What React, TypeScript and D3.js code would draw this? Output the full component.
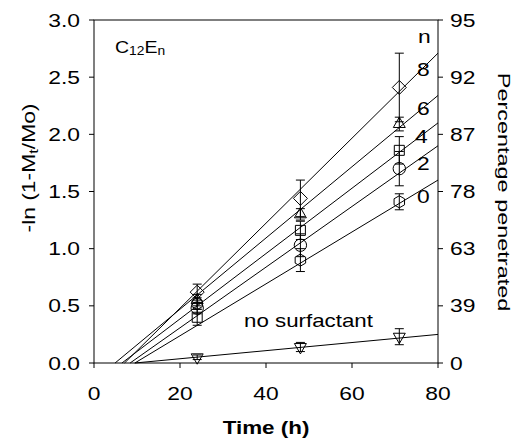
import React from 'react';
import * as d3 from 'd3';

// ---- data ----
const times = [24, 48, 71];
const seriesLabels = ['8', '6', '4', '2', '0'];
const values8 = [0.62, 1.44, 2.41];
const values6 = [0.55, 1.30, 2.09];
const values4 = [0.40, 1.16, 1.86];
const values2 = [0.48, 1.03, 1.70];
const values0 = [0.52, 0.90, 1.41];
const valuesNoSurf = [0.05, 0.14, 0.23];
const errors8 = [0.07, 0.16, 0.30];
const errors6 = [0.05, 0.05, 0.06];
const errors4 = [0.07, 0.08, 0.12];
const errors2 = [0.05, 0.10, 0.15];
const errors0 = [0.05, 0.10, 0.07];
const errorsNoSurf = [0.02, 0.04, 0.07];
// regression lines: start time (y=0) and value at t=80
const fitStart = [7.1, 4.9, 6.5, 8.4, 9.5];
const fitEnd = [2.71, 2.34, 2.10, 1.90, 1.60];
const fitStartNoSurf = 9.5;
const fitEndNoSurf = 0.25;
const xTicks = [0, 20, 40, 60, 80];
const yTicks = [0, 0.5, 1.0, 1.5, 2.0, 2.5, 3.0];
const rightTickLabels = ['0', '39', '63', '78', '87', '92', '95'];

const W = 514, H = 439;
const L = 94, R = 438, T = 20, B = 363;
const FONT = 'Liberation Sans, Arial, Helvetica, sans-serif';

const x = d3.scaleLinear().domain([0, 80]).range([L, R]);
const y = d3.scaleLinear().domain([0, 3]).range([B, T]);

const hexagon = {
  draw(ctx: any, size: number) {
    const r = Math.sqrt(size / (1.5 * Math.sqrt(3)));
    for (let i = 0; i < 6; i++) {
      const a = (Math.PI / 3) * i + Math.PI / 6;
      const px = r * Math.cos(a), py = r * Math.sin(a);
      if (i === 0) ctx.moveTo(px, py); else ctx.lineTo(px, py);
    }
    ctx.closePath();
  },
};
const diamond = {
  draw(ctx: any, size: number) {
    const r = Math.sqrt(size / 2);
    ctx.moveTo(0, -r); ctx.lineTo(r, 0); ctx.lineTo(0, r); ctx.lineTo(-r, 0); ctx.closePath();
  },
};

const symbolPaths = [
  d3.symbol(diamond as any, 98)(),
  d3.symbol(d3.symbolTriangle, 62)(),
  d3.symbol(d3.symbolSquare, 100)(),
  d3.symbol(d3.symbolCircle, 120)(),
  d3.symbol(hexagon as any, 95)(),
];
const triDown = d3.symbol(d3.symbolTriangle, 62)();

const allValues = [values8, values6, values4, values2, values0];
const allErrors = [errors8, errors6, errors4, errors2, errors0];

function Txt({ x: tx, y: ty, children, size = 18, sx = 1.27, anchor = 'start', rot = 0, bold = false }: any) {
  return (
    <text
      transform={`translate(${tx},${ty}) rotate(${rot}) scale(${sx},1)`}
      fontSize={size}
      fontFamily={FONT}
      fontWeight={bold ? 'bold' : 'normal'}
      textAnchor={anchor}
      fill="#000"
    >
      {children}
    </text>
  );
}

function ErrBar({ t, v, e }: any) {
  const cx = x(t);
  const cw = 4.5;
  return (
    <g stroke="#000" strokeWidth={1}>
      <line x1={cx} x2={cx} y1={y(v + e)} y2={y(v - e)} />
      <line x1={cx - cw} x2={cx + cw} y1={y(v + e)} y2={y(v + e)} />
      <line x1={cx - cw} x2={cx + cw} y1={y(v - e)} y2={y(v - e)} />
    </g>
  );
}

export default function App() {
  const line = d3.line<[number, number]>().x(d => x(d[0])).y(d => y(d[1]));
  return (
    <svg width={W} height={H} style={{ position: 'absolute', left: 0, top: 0, background: '#fff' }}>
      <rect x={0} y={0} width={W} height={H} fill="#fff" />
      {/* fit lines */}
      {fitStart.map((s, i) => (
        <path key={'f' + i} d={line([[s, 0], [80, fitEnd[i]]]) as string} stroke="#000" strokeWidth={1} fill="none" />
      ))}
      <path d={line([[fitStartNoSurf, 0], [80, fitEndNoSurf]]) as string} stroke="#000" strokeWidth={1} fill="none" />
      {/* error bars */}
      {allValues.map((vals, i) =>
        vals.map((v, j) => <ErrBar key={`e${i}-${j}`} t={times[j]} v={v} e={allErrors[i][j]} />)
      )}
      {valuesNoSurf.map((v, j) => <ErrBar key={`en${j}`} t={times[j]} v={v} e={errorsNoSurf[j]} />)}
      {/* markers */}
      {allValues.map((vals, i) =>
        vals.map((v, j) => (
          <path key={`m${i}-${j}`} d={symbolPaths[i] as string} transform={`translate(${x(times[j])},${y(v)})`}
            fill="none" stroke="#000" strokeWidth={1} />
        ))
      )}
      {valuesNoSurf.map((v, j) => (
        <path key={`mn${j}`} d={triDown as string} transform={`translate(${x(times[j])},${y(v)}) rotate(180)`}
          fill="none" stroke="#000" strokeWidth={1} />
      ))}
      {/* frame */}
      <rect x={L} y={T} width={R - L} height={B - T} fill="none" stroke="#000" strokeWidth={1} />
      {/* ticks */}
      {xTicks.map(t => (
        <g key={'xt' + t}>
          <line x1={x(t)} x2={x(t)} y1={B} y2={B + 5} stroke="#000" />
          <Txt x={x(t)} y={400} anchor="middle">{t}</Txt>
        </g>
      ))}
      {yTicks.map((t, i) => (
        <g key={'yt' + t}>
          <line x1={L - 5} x2={L} y1={y(t)} y2={y(t)} stroke="#000" />
          <line x1={R} x2={R + 5} y1={y(t)} y2={y(t)} stroke="#000" />
          <Txt x={80} y={y(t) + 6.5} anchor="end">{t.toFixed(1)}</Txt>
          <Txt x={450} y={y(t) + 6.5} anchor="start">{rightTickLabels[i]}</Txt>
        </g>
      ))}
      {/* titles */}
      <Txt x={266} y={434} anchor="middle" size={19} sx={1.18} bold>Time (h)</Txt>
      <text transform={`translate(35,168) rotate(-90) scale(1.27,1)`} fontSize={18} fontFamily={FONT} textAnchor="middle">
        -ln (1-M<tspan fontSize={13} dy={3}>t</tspan><tspan dy={-3}>/Mo)</tspan>
      </text>
      <Txt x={498} y={192} anchor="middle" rot={90} size={17} sx={1.38}>Percentage penetrated</Txt>
      <text transform={`translate(115,53) scale(1.15,1)`} fontSize={17} fontFamily={FONT}>
        C<tspan fontSize={12} dy={2}>12</tspan><tspan dy={-2}>E</tspan><tspan fontSize={12} dy={2}>n</tspan>
      </text>
      <Txt x={418} y={43}>n</Txt>
      <Txt x={417} y={76}>{seriesLabels[0]}</Txt>
      <Txt x={417} y={115}>{seriesLabels[1]}</Txt>
      <Txt x={415} y={143}>{seriesLabels[2]}</Txt>
      <Txt x={417} y={170}>{seriesLabels[3]}</Txt>
      <Txt x={417} y={203}>{seriesLabels[4]}</Txt>
      <Txt x={244} y={327} sx={1.24}>no surfactant</Txt>
    </svg>
  );
}
